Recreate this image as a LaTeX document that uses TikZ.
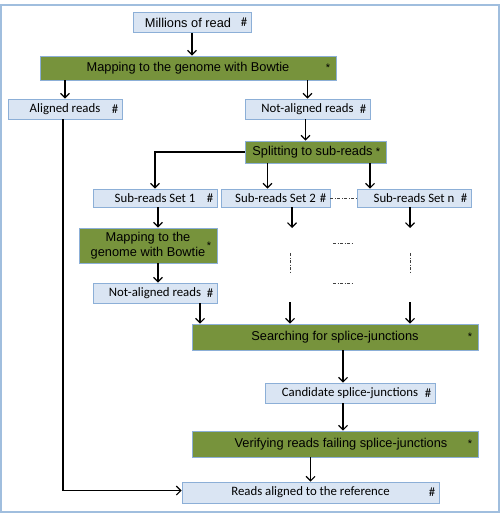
\documentclass[tikz,border=0pt]{standalone}
\usepackage{fontspec}
\setmainfont{Carlito}
\newfontfamily\arialfont{Liberation Sans}
\usetikzlibrary{arrows.meta, positioning}
\definecolor{boxblue}{RGB}{218,229,243}
\definecolor{boxline}{RGB}{140,175,215}
\definecolor{leaf}{RGB}{119,147,60}
\definecolor{frameblue}{RGB}{160,190,222}
\tikzset{%
  >={Straight Barb[length=4.5pt,width=9pt]},
  % Specifications for style of nodes:
	base/.style = {draw=boxline, line width=0.9pt, align=center, inner sep=0pt,
	                  minimum height=20pt, font=\fontsize{12.8}{14}\selectfont},
	reads/.style = {base, fill=boxblue},
	task/.style = {base, fill=leaf, minimum height=24pt,
	                  font=\arialfont\fontsize{12.8}{15}\selectfont},
	tagtext/.style = {anchor=east, inner sep=4pt, font=\fontsize{12.8}{14}\selectfont},
	tagged/.style = {label={[tagtext]east:\#}},
	starred/.style = {label={[tagtext, inner sep=6pt, font=\arialfont\fontsize{11}{12}\selectfont]east:*}},
	norm/.style = {->, draw, black, line width=1.1pt},
	gap/.style = {draw, black!75, line width=0.7pt,
	                  dash pattern=on 3pt off 1.5pt on 1pt off 1.5pt}
}
\begin{document}
\begin{tikzpicture}[x=1pt, y=-1pt]
  \useasboundingbox (0,0) rectangle (502,514);
  \draw [frameblue, line width=1.5pt] (1,5) rectangle (499,512);

  % Specification of nodes (position, etc.)
  \node (mil) [reads, tagged, minimum width=118pt, font=\arialfont\fontsize{12.8}{15}\selectfont]
        at (192,22.5) {Millions of read\hspace{8pt}};
  \node (map1) [task, starred, minimum width=296pt] at (188,68) {Mapping to the genome with Bowtie};
  \node (aln) [reads, tagged, minimum width=114pt] at (65,109) {Aligned reads};
  \node (nal) [reads, tagged, minimum width=125pt] at (307.5,109) {Not-aligned reads};
  \node (split) [task, starred, minimum width=141pt, minimum height=22pt]
        at (315.5,152) {Splitting to sub-reads\hspace{6pt}};

  \node (sub1) [reads, tagged, minimum width=124pt, minimum height=18pt] at (155,198) {Sub-reads Set 1};
  \node (sub2) [reads, tagged, minimum width=109pt, minimum height=18pt] at (275.5,198) {Sub-reads Set 2};
  \node (subn) [reads, tagged, minimum width=114pt, minimum height=18pt] at (414,198) {Sub-reads Set n};

  \node (map2) [task, starred, minimum width=138pt, minimum height=35pt]
        at (148,245.5) {Mapping to the\\genome with Bowtie\hspace{4pt}};
  \node (nal2) [reads, tagged, minimum width=124pt] at (155,293) {Not-aligned reads};

  \node (search) [task, starred, minimum width=286pt, minimum height=26pt]
        at (335,337) {Searching for splice-junctions};
  \node (cand) [reads, tagged, minimum width=170pt] at (350,393) {Candidate splice-junctions};
  \node (verify) [task, starred, minimum width=286pt, minimum height=26pt]
        at (335,444) {\hspace{12pt}Verifying reads failing splice-junctions};
  \node (final) [reads, tagged, minimum width=257pt, minimum height=21pt]
        at (310.5,492.5) {Reads aligned to the reference};

  % loose ends of the parallel branches
  \coordinate (o2) at (292,228);
  \coordinate (on) at (410,228);
  \coordinate (i2) at (290,302);
  \coordinate (in) at (410,302);

  \draw [norm] (mil.south) -- (mil.south |- map1.north);
  \draw [norm] (aln |- map1.south) -- (aln.north);
  \draw [norm] (nal |- map1.south) -- (nal.north);
  \draw [norm] ([xshift=-2pt]nal.south) -- ([xshift=-2pt]nal.south |- split.north);

  \draw [norm] (split.west) -| (sub1.north);
  \draw [norm] ([xshift=-8pt]sub2.north |- split.south) -- ([xshift=-8pt]sub2.north);
  \draw [norm] ([xshift=-44pt]subn.north |- split.south) -- ([xshift=-44pt]subn.north);

  \draw [norm] ([xshift=3pt]sub1.south) -- ([xshift=3pt]sub1.south |- map2.north);
  \draw [norm] (sub2.south -| o2) -- (o2);
  \draw [norm] (subn.south -| on) -- (on);
  \draw [norm] ([xshift=3pt]map2.south -| nal2) -- ([xshift=3pt]nal2.north);

  \draw [norm] ([xshift=45pt]nal2.south) -- ([xshift=45pt]nal2.south |- search.north);
  \draw [norm] (i2) -- (i2 |- search.north);
  \draw [norm] (in) -- (in |- search.north);

  \draw [norm] ([xshift=-7pt]search.south -| cand) -- ([xshift=-7pt]cand.north);
  \draw [norm] ([xshift=-7pt]cand.south) -- ([xshift=-7pt]cand.south |- verify.north);
  \draw [norm] (verify.south -| final) -- (final.north);
  \draw [norm] ([xshift=-2pt]aln.south) |- ([yshift=2pt]final.west);

  % the elided sets in between
  \draw [gap] (sub2.east) -- (subn.west);
  \draw [gap] (333,243) -- (353,243);
  \draw [gap] (333,283) -- (353,283);
  \draw [gap] (290,253) -- (290,273);
  \draw [gap] (410,253) -- (410,273);
\end{tikzpicture}
\end{document}
